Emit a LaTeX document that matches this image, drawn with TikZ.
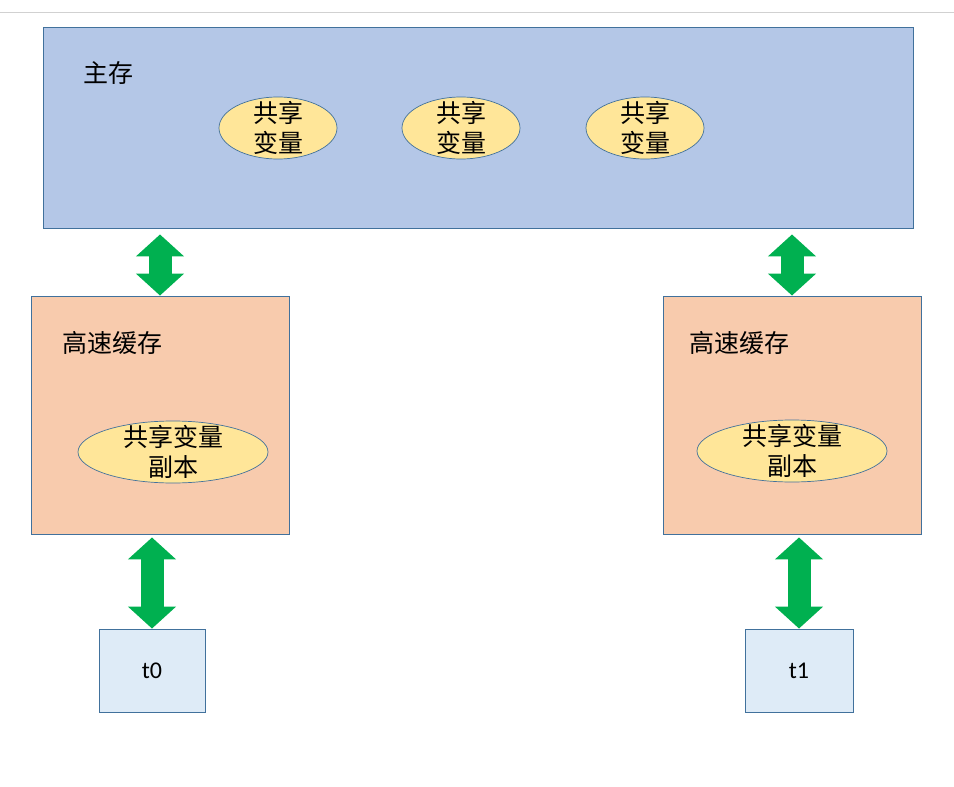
\documentclass[tikz,border=0pt]{standalone}
\usepackage{fontspec}
\setmainfont{Carlito}
\newfontfamily\cjk{Noto Sans CJK SC}
\usetikzlibrary{arrows.meta,positioning,shapes.geometric}

\definecolor{memfill}{HTML}{B4C7E7}
\definecolor{cachefill}{HTML}{F8CBAD}
\definecolor{varfill}{HTML}{FFE699}
\definecolor{threadfill}{HTML}{DEEBF7}
\definecolor{boxline}{HTML}{41719C}
\definecolor{arrowgreen}{HTML}{00B050}

\tikzset{
  membox/.style={draw=boxline, fill=memfill, line width=0.9pt, inner sep=0pt},
  cachebox/.style={draw=boxline, fill=cachefill, line width=0.9pt, inner sep=0pt,
    minimum width=258pt, minimum height=238pt},
  varnode/.style={ellipse, draw=boxline, fill=varfill, line width=0.7pt, inner sep=0pt},
  threadbox/.style={draw=boxline, fill=threadfill, line width=0.9pt, inner sep=0pt,
    minimum height=83pt, font=\fontsize{24}{28}\selectfont},
  syncarrow/.style={draw=arrowgreen, line width=23pt,
    {Triangle[length=22pt, width=47pt]}-{Triangle[length=22pt, width=47pt]}},
}

\begin{document}
\begin{tikzpicture}[x=1pt, y=-1pt, font=\cjk\fontsize{25}{30}\selectfont]
  \useasboundingbox (0,0) rectangle (954,787);
  \draw[black!18, line width=1pt] (0,12) -- (954,12);

  % main memory
  \node[membox, minimum width=870pt, minimum height=201pt] (mem) at (478,127.5) {};
  \node[anchor=west, inner sep=0pt] (memtitle) at (83,73) {主存};
  \node[varnode, minimum width=118pt, minimum height=62pt,
    label={[align=center]center:共享\\变量}] (var1) at (278,128) {};
  \node[varnode, minimum width=118pt, minimum height=62pt,
    label={[align=center]center:共享\\变量}] (var2) at (461,128) {};
  \node[varnode, minimum width=118pt, minimum height=62pt,
    label={[align=center]center:共享\\变量}] (var3) at (645,128) {};

  % caches
  \node[cachebox] (cache0) at (160,415) {};
  \node[cachebox] (cache1) at (792,415) {};
  \node[anchor=west, inner sep=0pt] (title0) at (62,343) {高速缓存};
  \node[anchor=west, inner sep=0pt] (title1) at (689,343) {高速缓存};
  \node[varnode, minimum width=190pt, minimum height=62pt,
    label={[align=center]center:共享变量\\副本}] (copy0) at (173,452) {};
  \node[varnode, minimum width=190pt, minimum height=62pt,
    label={[align=center]center:共享变量\\副本}] (copy1) at (792,451) {};

  % threads
  \node[threadbox, minimum width=106pt] (t0) at (152,670.5) {t0};
  \node[threadbox, minimum width=108pt] (t1) at (799,670.5) {t1};

  \draw[syncarrow, shorten <=6pt] (mem.south -| cache0) -- (cache0.north);
  \draw[syncarrow, shorten <=6pt] (mem.south -| cache1) -- (cache1.north);
  \draw[syncarrow, shorten <=3pt] (cache0.south -| t0) -- (t0.north);
  \draw[syncarrow, shorten <=3pt] (cache1.south -| t1) -- (t1.north);
\end{tikzpicture}
\end{document}
